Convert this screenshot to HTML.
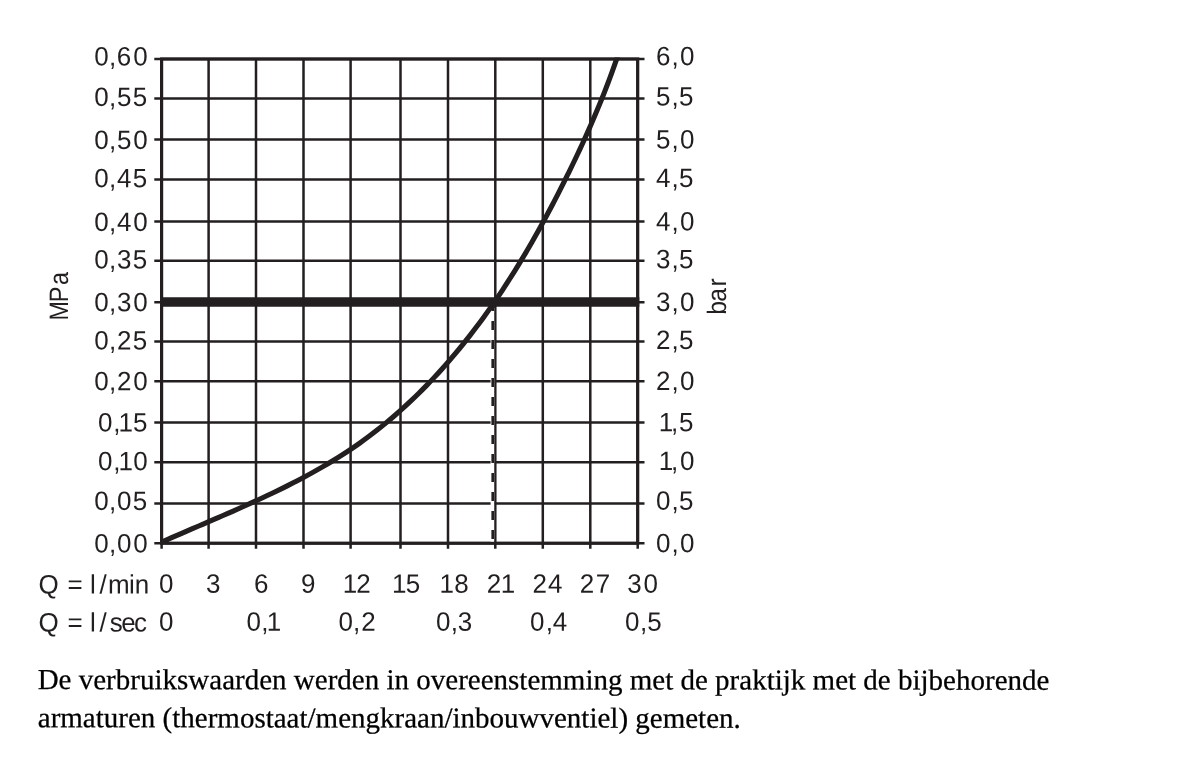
<!DOCTYPE html>
<html lang="nl">
<head>
<meta charset="utf-8">
<title>Doorstroomdiagram</title>
<style>
html,body{margin:0;padding:0;background:#fff;}
body{width:1200px;height:765px;overflow:hidden;}
svg{display:block;}
text{white-space:pre;text-rendering:geometricPrecision;}
</style>
</head>
<body>
<svg width="1200" height="765" viewBox="0 0 1200 765">
<rect width="1200" height="765" fill="#fff"/>
<g stroke="#231f20" fill="none" stroke-linecap="butt">
<line x1="208.6" y1="59.0" x2="208.6" y2="548.8" stroke-width="2.5"/>
<line x1="256.0" y1="59.0" x2="256.0" y2="548.8" stroke-width="2.5"/>
<line x1="303.5" y1="59.0" x2="303.5" y2="548.8" stroke-width="2.5"/>
<line x1="350.6" y1="59.0" x2="350.6" y2="548.8" stroke-width="2.5"/>
<line x1="400.5" y1="59.0" x2="400.5" y2="548.8" stroke-width="2.5"/>
<line x1="448.0" y1="59.0" x2="448.0" y2="548.8" stroke-width="2.5"/>
<line x1="495.3" y1="59.0" x2="495.3" y2="548.8" stroke-width="2.5"/>
<line x1="542.8" y1="59.0" x2="542.8" y2="548.8" stroke-width="2.5"/>
<line x1="590.3" y1="59.0" x2="590.3" y2="548.8" stroke-width="2.5"/>
<line x1="154.3" y1="98.6" x2="644.5" y2="98.6" stroke-width="2.5"/>
<line x1="154.3" y1="139.6" x2="644.5" y2="139.6" stroke-width="2.5"/>
<line x1="154.3" y1="179.4" x2="644.5" y2="179.4" stroke-width="2.5"/>
<line x1="154.3" y1="221.4" x2="644.5" y2="221.4" stroke-width="2.5"/>
<line x1="154.3" y1="260.8" x2="644.5" y2="260.8" stroke-width="2.5"/>
<line x1="154.3" y1="341.6" x2="644.5" y2="341.6" stroke-width="2.5"/>
<line x1="154.3" y1="381.2" x2="644.5" y2="381.2" stroke-width="2.5"/>
<line x1="154.3" y1="422.4" x2="644.5" y2="422.4" stroke-width="2.5"/>
<line x1="154.3" y1="462.2" x2="644.5" y2="462.2" stroke-width="2.5"/>
<line x1="154.3" y1="503.6" x2="644.5" y2="503.6" stroke-width="2.5"/>
<line x1="154.3" y1="59.0" x2="644.5" y2="59.0" stroke-width="2.5"/>
<line x1="154.3" y1="543.2" x2="644.5" y2="543.2" stroke-width="2.5"/>
<line x1="161.6" y1="59.0" x2="161.6" y2="548.8" stroke-width="2.5"/>
<line x1="637.7" y1="59.0" x2="637.7" y2="548.8" stroke-width="2.5"/>
<rect x="161.6" y="59.0" width="476.1" height="484.2" stroke-width="3.2"/>
<rect x="490.6" y="308" width="3.6" height="233.5" fill="#fff" stroke="none"/>
<line x1="492.7" y1="302" x2="492.7" y2="541.5" stroke-width="2.6" stroke-dasharray="9 10"/>
<line x1="154.3" y1="302.2" x2="644.5" y2="302.2" stroke-width="2.5"/>
<line x1="160.0" y1="302.1" x2="639.3" y2="302.1" stroke-width="9.5"/>
<clipPath id="cc"><rect x="160.0" y="57.4" width="479.3" height="487.40000000000003"/></clipPath>
<path d="M161.58,542.08 C163.25,541.35 168.26,539.14 171.61,537.68 C174.97,536.22 178.33,534.76 181.70,533.30 C185.08,531.85 188.46,530.39 191.85,528.94 C195.23,527.48 198.63,526.03 202.02,524.57 C205.42,523.11 208.82,521.65 212.22,520.18 C215.62,518.71 219.03,517.24 222.43,515.76 C225.84,514.28 229.24,512.80 232.64,511.30 C236.04,509.80 239.44,508.30 242.84,506.78 C246.23,505.26 249.62,503.73 253.01,502.18 C256.39,500.64 259.77,499.08 263.14,497.51 C266.51,495.93 269.87,494.34 273.23,492.73 C276.58,491.12 279.92,489.49 283.25,487.84 C286.58,486.19 289.89,484.52 293.20,482.82 C296.50,481.13 299.79,479.41 303.06,477.67 C306.33,475.93 309.59,474.16 312.82,472.36 C316.06,470.57 319.28,468.74 322.48,466.89 C325.68,465.03 328.86,463.15 332.01,461.23 C335.17,459.32 338.30,457.37 341.41,455.38 C344.52,453.40 347.60,451.38 350.66,449.33 C353.72,447.27 356.75,445.18 359.75,443.05 C362.76,440.92 365.73,438.75 368.68,436.55 C371.63,434.35 374.55,432.11 377.45,429.83 C380.34,427.56 383.21,425.24 386.05,422.90 C388.89,420.56 391.70,418.18 394.49,415.77 C397.27,413.36 400.03,410.92 402.77,408.44 C405.50,405.97 408.20,403.47 410.88,400.93 C413.56,398.40 416.22,395.84 418.84,393.24 C421.47,390.65 424.07,388.03 426.65,385.39 C429.22,382.74 431.77,380.07 434.29,377.37 C436.81,374.67 439.31,371.95 441.78,369.20 C444.25,366.45 446.70,363.68 449.12,360.88 C451.54,358.09 453.93,355.27 456.30,352.43 C458.67,349.59 461.01,346.73 463.33,343.85 C465.65,340.97 467.94,338.07 470.21,335.15 C472.48,332.23 474.73,329.29 476.95,326.34 C479.17,323.38 481.36,320.40 483.54,317.41 C485.71,314.42 487.86,311.41 489.99,308.38 C492.12,305.36 494.22,302.32 496.30,299.26 C498.39,296.20 500.45,293.13 502.49,290.04 C504.53,286.95 506.55,283.85 508.55,280.73 C510.55,277.61 512.53,274.48 514.49,271.34 C516.44,268.19 518.38,265.04 520.30,261.87 C522.22,258.70 524.12,255.52 526.01,252.32 C527.89,249.13 529.75,245.93 531.60,242.71 C533.45,239.50 535.28,236.27 537.09,233.04 C538.90,229.81 540.70,226.56 542.48,223.31 C544.25,220.06 546.02,216.80 547.76,213.53 C549.51,210.26 551.24,206.98 552.96,203.70 C554.67,200.41 556.38,197.12 558.06,193.82 C559.75,190.53 561.42,187.22 563.08,183.92 C564.74,180.61 566.39,177.29 568.02,173.98 C569.66,170.66 571.28,167.33 572.88,164.00 C574.48,160.67 576.07,157.34 577.65,154.00 C579.22,150.66 580.78,147.31 582.32,143.96 C583.86,140.60 585.39,137.24 586.90,133.88 C588.41,130.51 589.90,127.14 591.37,123.75 C592.84,120.37 594.29,116.98 595.73,113.59 C597.16,110.19 598.58,106.78 599.97,103.37 C601.36,99.96 602.74,96.53 604.09,93.10 C605.44,89.67 606.77,86.23 608.08,82.78 C609.39,79.33 610.67,75.87 611.93,72.40 C613.20,68.93 614.43,65.45 615.65,61.96 C616.86,58.47 618.62,53.21 619.22,51.46" stroke-width="5.1" stroke-linejoin="round" clip-path="url(#cc)"/>
</g>
<g fill="#231f20" font-family="'Liberation Sans', sans-serif" font-size="26">
<text transform="matrix(1.0000 0.0006 0 1.0267 0 65.53)" x="94.37 108.89 116.83 133.37">0,60</text>
<text transform="matrix(1.0000 0.0006 0 1.0267 0 105.93)" x="94.37 108.89 116.95 132.80">0,55</text>
<text transform="matrix(1.0000 0.0006 0 1.0267 0 148.93)" x="94.37 108.89 116.95 133.37">0,50</text>
<text transform="matrix(1.0000 0.0006 0 1.0267 0 187.23)" x="94.37 108.89 117.00 132.80">0,45</text>
<text transform="matrix(1.0000 0.0006 0 1.0267 0 230.93)" x="94.37 108.89 117.00 133.37">0,40</text>
<text transform="matrix(1.0000 0.0006 0 1.0267 0 268.53)" x="94.37 108.89 117.00 132.80">0,35</text>
<text transform="matrix(1.0000 0.0006 0 1.0267 0 311.23)" x="94.37 108.89 117.00 133.37">0,30</text>
<text transform="matrix(1.0000 0.0006 0 1.0267 0 349.43)" x="94.37 108.89 116.92 132.80">0,25</text>
<text transform="matrix(1.0000 0.0006 0 1.0267 0 390.23)" x="94.37 108.89 116.92 133.37">0,20</text>
<text transform="matrix(1.0000 0.0006 0 1.0267 0 431.53)" x="98.07 113.19 118.49 133.10">0,15</text>
<text transform="matrix(1.0000 0.0006 0 1.0267 0 470.23)" x="98.07 113.19 118.49 133.37">0,10</text>
<text transform="matrix(1.0000 0.0006 0 1.0267 0 510.03)" x="94.37 108.89 116.92 132.80">0,05</text>
<text transform="matrix(1.0000 0.0006 0 1.0267 0 552.53)" x="94.37 108.89 116.92 133.37">0,00</text>
<text transform="matrix(1.0000 0.0006 0 1.0267 0 64.79)" x="655.93 671.39 680.02">6,0</text>
<text transform="matrix(1.0000 0.0006 0 1.0267 0 105.20)" x="656.05 671.39 679.05">5,5</text>
<text transform="matrix(1.0000 0.0006 0 1.0267 0 148.19)" x="656.05 671.39 680.02">5,0</text>
<text transform="matrix(1.0000 0.0006 0 1.0267 0 186.50)" x="656.10 671.39 679.05">4,5</text>
<text transform="matrix(1.0000 0.0006 0 1.0267 0 230.19)" x="656.10 671.39 680.02">4,0</text>
<text transform="matrix(1.0000 0.0006 0 1.0267 0 267.80)" x="656.10 671.39 679.05">3,5</text>
<text transform="matrix(1.0000 0.0006 0 1.0267 0 310.49)" x="656.10 671.39 680.02">3,0</text>
<text transform="matrix(1.0000 0.0006 0 1.0267 0 348.70)" x="656.02 671.39 679.05">2,5</text>
<text transform="matrix(1.0000 0.0006 0 1.0267 0 389.49)" x="656.02 671.39 680.02">2,0</text>
<text transform="matrix(1.0000 0.0006 0 1.0267 0 430.79)" x="658.69 670.94 679.05">1,5</text>
<text transform="matrix(1.0000 0.0006 0 1.0267 0 469.49)" x="658.69 670.94 680.02">1,0</text>
<text transform="matrix(1.0000 0.0006 0 1.0267 0 509.30)" x="656.02 671.39 679.05">0,5</text>
<text transform="matrix(1.0000 0.0006 0 1.0267 0 551.79)" x="656.02 671.39 680.02">0,0</text>
<text transform="matrix(0.0006 -0.9000 1.0267 0 68.11 0)" x="-356.11 -335.72 -316.78">MPa</text>
<text transform="matrix(0.0006 -0.9500 1.0267 0 726.19 0)" x="-331.21 -317.52 -301.56">bar</text>
<text transform="matrix(1.0000 0.0006 0 1.0267 0 593.54)" x="38.39 58.62 67.41 82.60 90.11 99.39 107.91 129.12 134.75">Q = l/min</text>
<text transform="matrix(1.0000 0.0006 0 1.0267 0 631.54)" x="38.39 58.62 67.41 82.60 90.11 99.39 109.71 121.20 133.94">Q = l/sec</text>
<text transform="matrix(1.0000 0.0006 0 1.0267 0 592.60)" x="158.92">0</text>
<text transform="matrix(1.0000 0.0006 0 1.0267 0 592.57)" x="206.10">3</text>
<text transform="matrix(1.0000 0.0006 0 1.0267 0 592.54)" x="253.93">6</text>
<text transform="matrix(1.0000 0.0006 0 1.0267 0 592.52)" x="301.10">9</text>
<text transform="matrix(1.0000 0.0006 0 1.0267 0 592.49)" x="342.79 356.32">12</text>
<text transform="matrix(1.0000 0.0006 0 1.0267 0 592.46)" x="391.94 405.80">15</text>
<text transform="matrix(1.0000 0.0006 0 1.0267 0 592.43)" x="439.44 454.20">18</text>
<text transform="matrix(1.0000 0.0006 0 1.0267 0 592.40)" x="486.82 500.69">21</text>
<text transform="matrix(1.0000 0.0006 0 1.0267 0 592.37)" x="532.45 547.95">24</text>
<text transform="matrix(1.0000 0.0006 0 1.0267 0 592.34)" x="579.65 595.68">27</text>
<text transform="matrix(1.0000 0.0006 0 1.0267 0 592.31)" x="627.22 643.40">30</text>
<text transform="matrix(1.0000 0.0006 0 1.0267 0 630.60)" x="158.92">0</text>
<text transform="matrix(1.0000 0.0006 0 1.0267 0 630.54)" x="246.52 261.14 266.69">0,1</text>
<text transform="matrix(1.0000 0.0006 0 1.0267 0 630.49)" x="338.57 352.96 361.22">0,2</text>
<text transform="matrix(1.0000 0.0006 0 1.0267 0 630.43)" x="435.90 450.79 457.85">0,3</text>
<text transform="matrix(1.0000 0.0006 0 1.0267 0 630.37)" x="530.07 545.79 552.65">0,4</text>
<text transform="matrix(1.0000 0.0006 0 1.0267 0 630.31)" x="625.07 639.89 647.35">0,5</text>
</g>
<g fill="#000" stroke="#000" stroke-width="0.25" stroke-linejoin="round" font-family="'Liberation Serif', serif">
<text transform="matrix(1.00032 0.0006 0 1 543.53 689.40)" x="-505.71" font-size="29">De verbruikswaarden werden in overeenstemming met de praktijk met de bijbehorende</text>
<text transform="matrix(1.00000 0.0006 0 1 389.27 727.50)" x="-351.49" font-size="29">armaturen (thermostaat/mengkraan/inbouwventiel) gemeten.</text>
</g>
</svg>
</body>
</html>
